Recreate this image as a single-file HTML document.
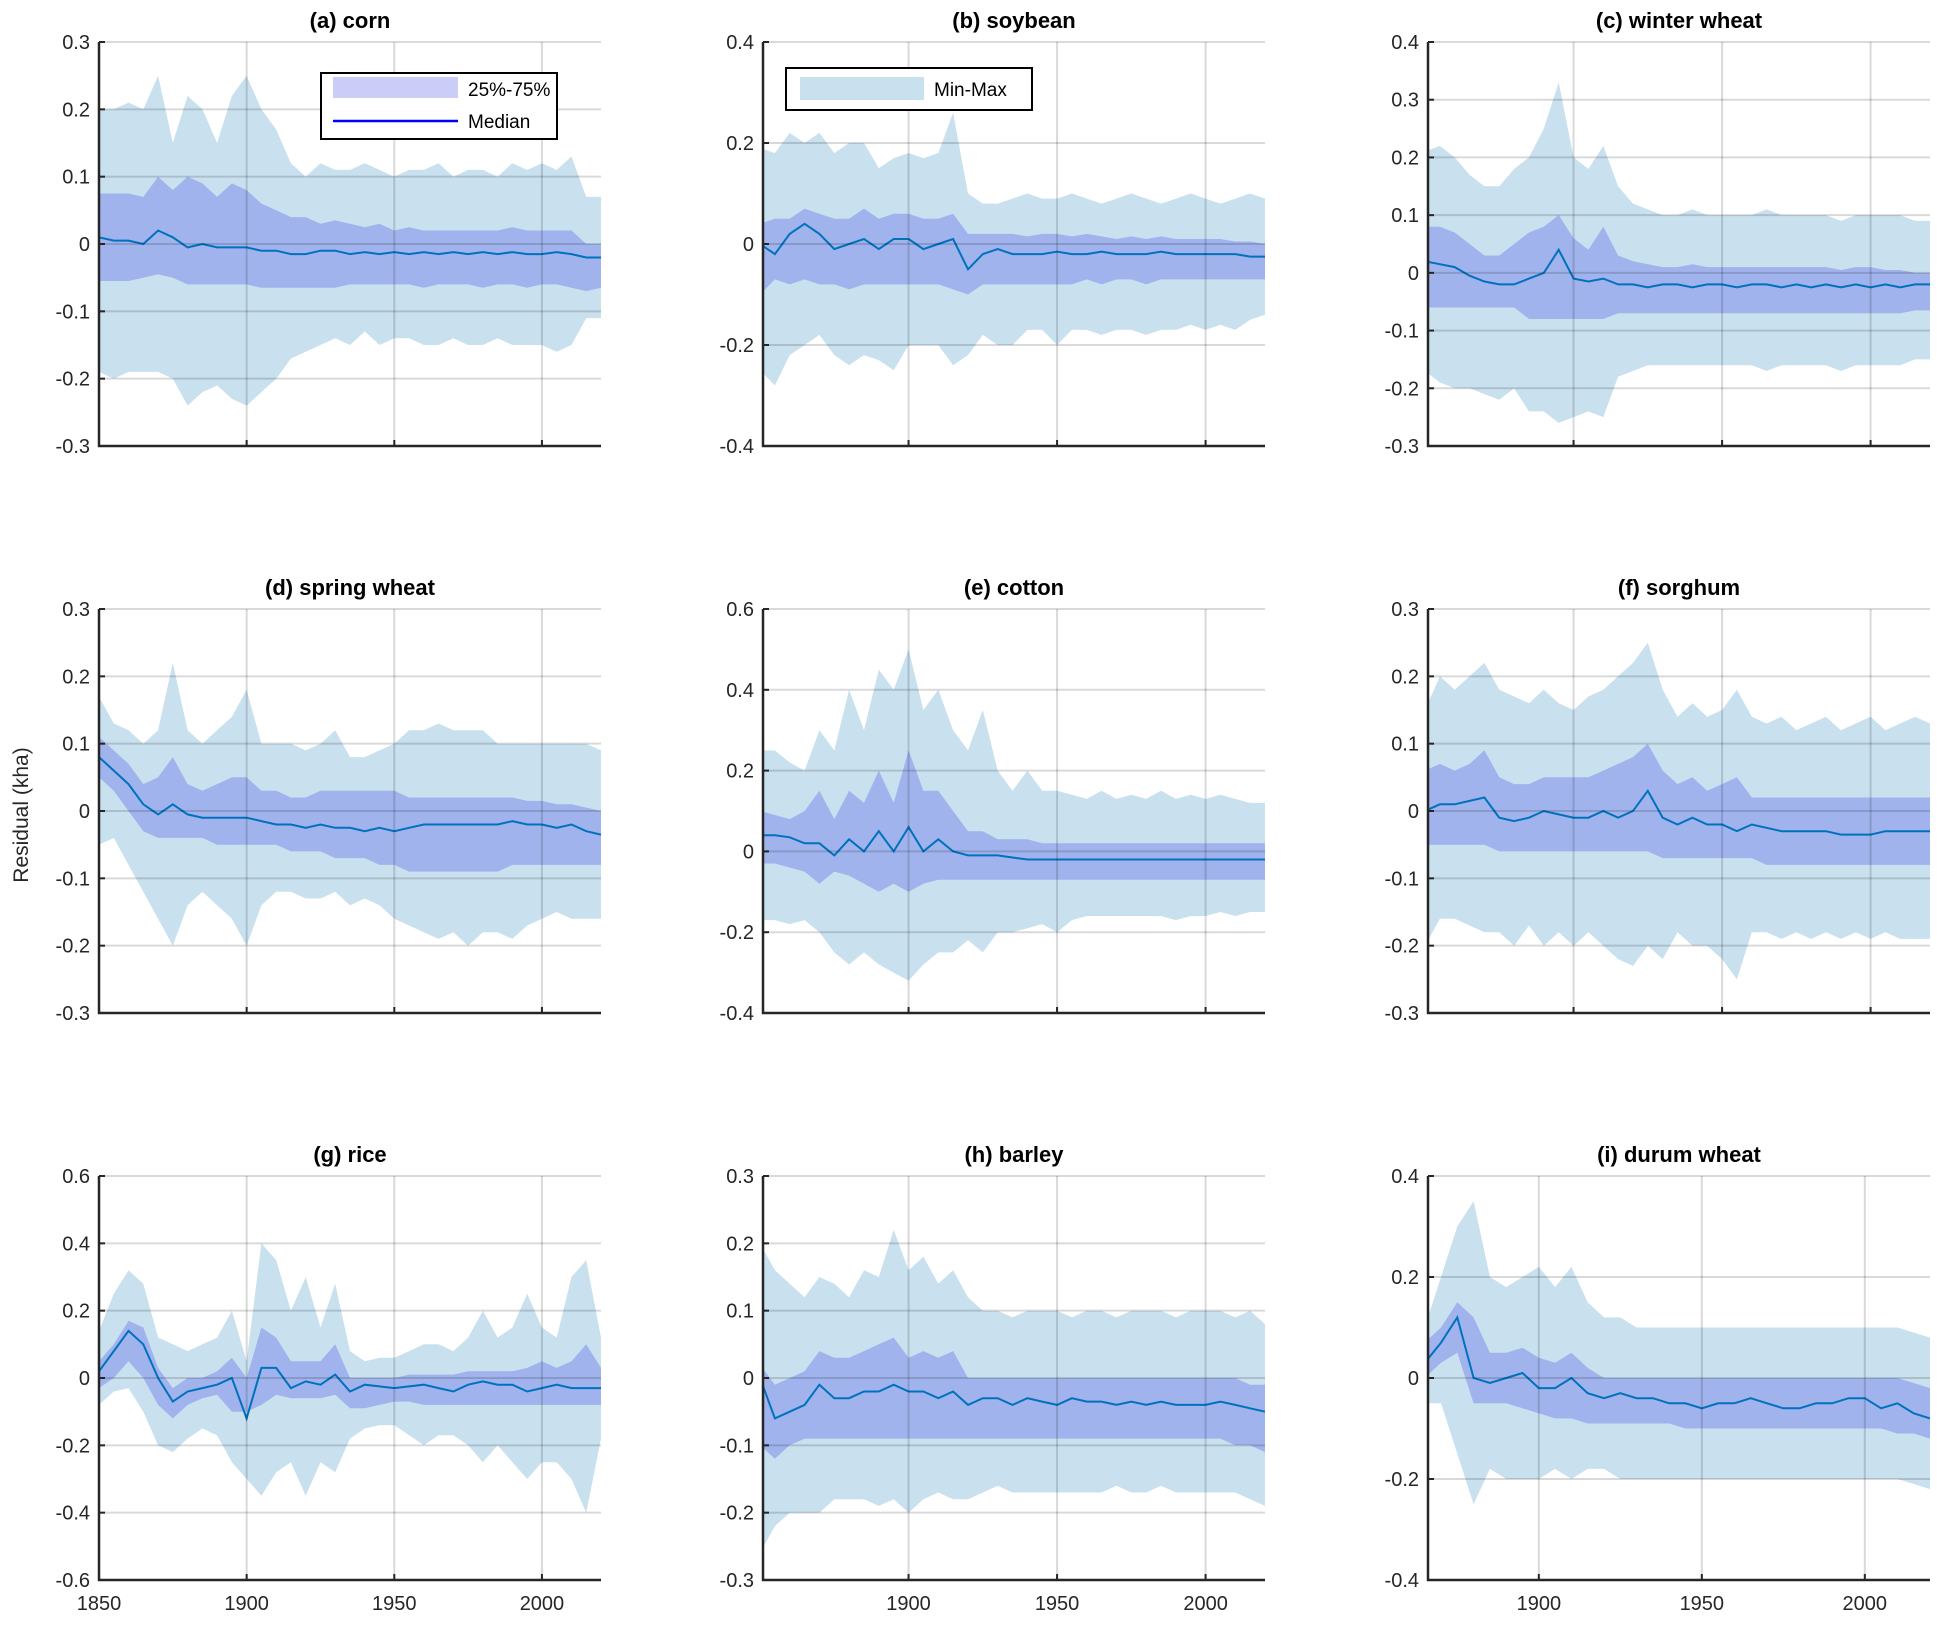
<!DOCTYPE html>
<html><head><meta charset="utf-8">
<style>
html,body{margin:0;padding:0;background:#fff;}
svg{display:block;font-family:"Liberation Sans",Arial,sans-serif;}
</style></head>
<body>
<svg id="fig" width="1950" height="1628" viewBox="0 0 1950 1628" xmlns="http://www.w3.org/2000/svg">
<text x="0" y="0" transform="translate(28,815) rotate(-90)" text-anchor="middle" font-size="21" fill="#262626">Residual (kha)</text>
</svg>
<script>
const years = [1850,1855,1860,1865,1870,1875,1880,1885,1890,1895,1900,1905,1910,1915,1920,1925,1930,1935,1940,1945,1950,1955,1960,1965,1970,1975,1980,1985,1990,1995,2000,2005,2010,2015,2020];

const cornMax = [.20,.20,.21,.20,.25, .15,.22,.20,.15,.22, .25,.20,.17,.12,.10, .12,.11,.11,.12,.11, .10,.11,.11,.12,.10, .11,.11,.10,.12,.11, .12,.11,.13,.07,.07];
const cornMin = [-.19,-.20,-.19,-.19,-.19, -.20,-.24,-.22,-.21,-.23, -.24,-.22,-.20,-.17,-.16, -.15,-.14,-.15,-.13,-.15, -.14,-.14,-.15,-.15,-.14, -.15,-.15,-.14,-.15,-.15, -.15,-.16,-.15,-.11,-.11];
const cornQ75 = [.075,.075,.075,.07,.10, .08,.10,.09,.07,.09, .08,.06,.05,.04,.04, .03,.035,.03,.025,.03, .02,.025,.02,.02,.02, .02,.02,.02,.025,.02, .02,.02,.02,0,0];
const cornQ25 = [-.055,-.055,-.055,-.05,-.045, -.05,-.06,-.06,-.06,-.06, -.06,-.065,-.065,-.065,-.065, -.065,-.065,-.06,-.06,-.06, -.06,-.06,-.065,-.06,-.06, -.06,-.065,-.06,-.06,-.065, -.06,-.06,-.065,-.07,-.065];
const cornMed = [.01,.005,.005,0,.02, .01,-.005,0,-.005,-.005, -.005,-.01,-.01,-.015,-.015, -.01,-.01,-.015,-.012,-.015, -.012,-.015,-.012,-.015,-.012, -.015,-.012,-.015,-.012,-.015, -.015,-.012,-.015,-.02,-.02];

const soyMax = [.19,.18,.22,.20,.22, .18,.20,.20,.15,.17, .18,.17,.18,.26,.10, .08,.08,.09,.10,.09, .09,.10,.09,.08,.09, .10,.09,.08,.09,.10, .09,.08,.09,.10,.09];
const soyMin = [-.25,-.28,-.22,-.20,-.18, -.22,-.24,-.22,-.23,-.25, -.20,-.20,-.20,-.24,-.22, -.18,-.20,-.20,-.17,-.17, -.20,-.17,-.17,-.18,-.17, -.17,-.18,-.17,-.17,-.16, -.17,-.16,-.17,-.15,-.14];
const soyQ75 = [.04,.05,.05,.07,.06, .05,.05,.07,.05,.06, .06,.05,.05,.06,.02, .02,.02,.02,.015,.02, .02,.015,.02,.015,.01, .015,.01,.015,.01,.01, .01,.01,.005,.005,0];
const soyQ25 = [-.10,-.07,-.08,-.07,-.08, -.08,-.09,-.08,-.08,-.08, -.08,-.08,-.08,-.09,-.10, -.08,-.08,-.08,-.08,-.08, -.08,-.08,-.07,-.08,-.07, -.07,-.08,-.07,-.07,-.07, -.07,-.07,-.07,-.07,-.07];
const soyMed = [0,-.02,.02,.04,.02, -.01,0,.01,-.01,.01, .01,-.01,0,.01,-.05, -.02,-.01,-.02,-.02,-.02, -.015,-.02,-.02,-.015,-.02, -.02,-.02,-.015,-.02,-.02, -.02,-.02,-.02,-.025,-.025];

const wwMax = [.21,.22,.20,.17,.15, .15,.18,.20,.25,.33, .20,.18,.22,.15,.12, .11,.10,.10,.11,.10, .10,.10,.10,.11,.10, .10,.10,.10,.09,.10, .10,.10,.10,.09,.09];
const wwMin = [-.17,-.19,-.20,-.20,-.21, -.22,-.20,-.24,-.24,-.26, -.25,-.24,-.25,-.18,-.17, -.16,-.16,-.16,-.16,-.16, -.16,-.16,-.16,-.17,-.16, -.16,-.16,-.16,-.17,-.16, -.16,-.16,-.16,-.15,-.15];
const wwQ75 = [.08,.08,.07,.05,.03, .03,.05,.07,.08,.10, .06,.04,.08,.03,.02, .015,.01,.01,.015,.01, .01,.01,.01,.01,.01, .01,.01,.01,.005,.01, .01,.005,.005,0,0];
const wwQ25 = [-.06,-.06,-.06,-.06,-.06, -.06,-.06,-.08,-.08,-.08, -.08,-.08,-.08,-.07,-.07, -.07,-.07,-.07,-.07,-.07, -.07,-.07,-.07,-.07,-.07, -.07,-.07,-.07,-.07,-.07, -.07,-.07,-.07,-.065,-.065];
const wwMed = [.02,.015,.01,-.005,-.015, -.02,-.02,-.01,0,.04, -.01,-.015,-.01,-.02,-.02, -.025,-.02,-.02,-.025,-.02, -.02,-.025,-.02,-.02,-.025, -.02,-.025,-.02,-.025,-.02, -.025,-.02,-.025,-.02,-.02];

const swMax = [.17,.13,.12,.10,.12, .22,.12,.10,.12,.14, .18,.10,.10,.10,.09, .10,.12,.08,.08,.09, .10,.12,.12,.13,.12, .12,.12,.10,.10,.10, .10,.10,.10,.10,.09];
const swMin = [-.05,-.04,-.08,-.12,-.16, -.20,-.14,-.12,-.14,-.16, -.20,-.14,-.12,-.12,-.13, -.13,-.12,-.14,-.13,-.14, -.16,-.17,-.18,-.19,-.18, -.20,-.18,-.18,-.19,-.17, -.16,-.15,-.16,-.16,-.16];
const swQ75 = [.11,.09,.07,.04,.05, .08,.04,.03,.04,.05, .05,.03,.03,.02,.02, .03,.03,.03,.03,.03, .03,.02,.02,.02,.02, .02,.02,.02,.02,.015, .015,.01,.01,.005,0];
const swQ25 = [.05,.03,0,-.03,-.04, -.04,-.04,-.04,-.05,-.05, -.05,-.05,-.05,-.06,-.06, -.06,-.07,-.07,-.07,-.08, -.08,-.09,-.09,-.09,-.09, -.09,-.09,-.09,-.08,-.08, -.08,-.08,-.08,-.08,-.08];
const swMed = [.08,.06,.04,.01,-.005, .01,-.005,-.01,-.01,-.01, -.01,-.015,-.02,-.02,-.025, -.02,-.025,-.025,-.03,-.025, -.03,-.025,-.02,-.02,-.02, -.02,-.02,-.02,-.015,-.02, -.02,-.025,-.02,-.03,-.035];

const cotMax = [.25,.25,.22,.20,.30, .25,.40,.30,.45,.40, .50,.35,.40,.30,.25, .35,.20,.15,.20,.15, .15,.14,.13,.15,.13, .14,.13,.15,.13,.14, .13,.14,.13,.12,.12];
const cotMin = [-.17,-.17,-.18,-.17,-.20, -.25,-.28,-.25,-.28,-.30, -.32,-.28,-.25,-.25,-.22, -.25,-.20,-.20,-.19,-.18, -.20,-.17,-.16,-.16,-.16, -.16,-.16,-.16,-.17,-.16, -.16,-.15,-.16,-.15,-.15];
const cotQ75 = [.10,.09,.08,.10,.15, .08,.15,.12,.20,.12, .25,.15,.15,.10,.05, .05,.03,.03,.03,.02, .02,.02,.02,.02,.02, .02,.02,.02,.02,.02, .02,.02,.02,.02,.02];
const cotQ25 = [-.03,-.03,-.04,-.05,-.08, -.05,-.06,-.08,-.10,-.08, -.10,-.08,-.07,-.07,-.07, -.07,-.07,-.07,-.07,-.07, -.07,-.07,-.07,-.07,-.07, -.07,-.07,-.07,-.07,-.07, -.07,-.07,-.07,-.07,-.07];
const cotMed = [.04,.04,.035,.02,.02, -.01,.03,0,.05,0, .06,0,.03,0,-.01, -.01,-.01,-.015,-.02,-.02, -.02,-.02,-.02,-.02,-.02, -.02,-.02,-.02,-.02,-.02, -.02,-.02,-.02,-.02,-.02];

const sorMax = [.15,.20,.18,.20,.22, .18,.17,.16,.18,.16, .15,.17,.18,.20,.22, .25,.18,.14,.16,.14, .15,.18,.14,.13,.14, .12,.13,.14,.12,.13, .14,.12,.13,.14,.13];
const sorMin = [-.20,-.16,-.16,-.17,-.18, -.18,-.20,-.17,-.20,-.18, -.20,-.18,-.20,-.22,-.23, -.20,-.22,-.18,-.20,-.20, -.22,-.25,-.18,-.18,-.19, -.18,-.19,-.18,-.19,-.18, -.19,-.18,-.19,-.19,-.19];
const sorQ75 = [.06,.07,.06,.07,.09, .05,.04,.04,.05,.05, .05,.05,.06,.07,.08, .10,.06,.04,.05,.03, .04,.05,.02,.02,.02, .02,.02,.02,.02,.02, .02,.02,.02,.02,.02];
const sorQ25 = [-.05,-.05,-.05,-.05,-.05, -.06,-.06,-.06,-.06,-.06, -.06,-.06,-.06,-.06,-.06, -.06,-.07,-.07,-.07,-.07, -.07,-.07,-.07,-.08,-.08, -.08,-.08,-.08,-.08,-.08, -.08,-.08,-.08,-.08,-.08];
const sorMed = [0,.01,.01,.015,.02, -.01,-.015,-.01,0,-.005, -.01,-.01,0,-.01,0, .03,-.01,-.02,-.01,-.02, -.02,-.03,-.02,-.025,-.03, -.03,-.03,-.03,-.035,-.035, -.035,-.03,-.03,-.03,-.03];

const riceMax = [.14,.25,.32,.28,.12, .10,.08,.10,.12,.20, .05,.40,.35,.20,.30, .15,.28,.08,.05,.06, .06,.08,.10,.10,.08, .12,.20,.12,.15,.25, .15,.12,.30,.35,.12];
const riceMin = [-.08,-.04,-.03,-.10,-.20, -.22,-.18,-.15,-.17,-.25, -.30,-.35,-.28,-.25,-.35, -.25,-.28,-.18,-.15,-.14, -.14,-.17,-.20,-.17,-.17, -.20,-.25,-.20,-.25,-.30, -.25,-.25,-.30,-.40,-.18];
const riceQ75 = [.05,.10,.17,.15,.03, -.03,0,0,.02,.06, 0,.15,.12,.05,.05, .05,.10,0,0,0, 0,.01,.01,.01,.01, .02,.02,.02,.02,.03, .05,.03,.05,.10,.03];
const riceQ25 = [-.03,0,.05,0,-.08, -.12,-.08,-.06,-.05,-.10, -.10,-.08,-.05,-.06,-.06, -.06,-.05,-.09,-.09,-.08, -.07,-.07,-.08,-.08,-.08, -.08,-.08,-.08,-.08,-.08, -.08,-.08,-.08,-.08,-.08];
const riceMed = [.02,.08,.14,.10,0, -.07,-.04,-.03,-.02,0, -.12,.03,.03,-.03,-.01, -.02,.01,-.04,-.02,-.025, -.03,-.025,-.02,-.03,-.04, -.02,-.01,-.02,-.02,-.04, -.03,-.02,-.03,-.03,-.03];

const barMax = [.20,.16,.14,.12,.15, .14,.12,.16,.15,.22, .16,.18,.14,.16,.12, .10,.10,.09,.10,.10, .10,.09,.10,.10,.09, .10,.10,.10,.09,.10, .10,.10,.09,.10,.08];
const barMin = [-.26,-.22,-.20,-.20,-.20, -.18,-.18,-.18,-.19,-.18, -.20,-.18,-.17,-.18,-.18, -.17,-.16,-.17,-.17,-.17, -.17,-.17,-.17,-.17,-.16, -.17,-.17,-.16,-.17,-.17, -.17,-.17,-.17,-.18,-.19];
const barQ75 = [.02,-.01,0,.01,.04, .03,.03,.04,.05,.06, .03,.04,.03,.04,0, 0,0,0,0,0, 0,0,0,0,0, 0,0,0,0,0, 0,0,0,-.01,-.01];
const barQ25 = [-.10,-.12,-.10,-.09,-.09, -.09,-.09,-.09,-.09,-.09, -.09,-.09,-.09,-.09,-.09, -.09,-.09,-.09,-.09,-.09, -.09,-.09,-.09,-.09,-.09, -.09,-.09,-.09,-.09,-.09, -.09,-.09,-.10,-.10,-.11];
const barMed = [0,-.06,-.05,-.04,-.01, -.03,-.03,-.02,-.02,-.01, -.02,-.02,-.03,-.02,-.04, -.03,-.03,-.04,-.03,-.035, -.04,-.03,-.035,-.035,-.04, -.035,-.04,-.035,-.04,-.04, -.04,-.035,-.04,-.045,-.05];

const durMax = [.10,.10,.10,.10,.20, .30,.35,.20,.18,.20, .22,.18,.22,.15,.12, .12,.10,.10,.10,.10, .10,.10,.10,.10,.10, .10,.10,.10,.10,.10, .10,.10,.10,.09,.08];
const durMin = [-.05,-.05,-.05,-.05,-.05, -.15,-.25,-.18,-.20,-.20, -.20,-.18,-.20,-.18,-.18, -.20,-.20,-.20,-.20,-.20, -.20,-.20,-.20,-.20,-.20, -.20,-.20,-.20,-.20,-.20, -.20,-.20,-.20,-.21,-.22];
const durQ75 = [.07,.07,.07,.07,.10, .15,.12,.05,.05,.06, .04,.03,.05,.02,0, 0,0,0,0,0, 0,0,0,0,0, 0,0,0,0,0, 0,0,0,-.01,-.02];
const durQ25 = [0,0,0,0,.03, .05,-.05,-.05,-.05,-.06, -.07,-.08,-.08,-.09,-.09, -.09,-.09,-.09,-.09,-.10, -.10,-.10,-.10,-.10,-.10, -.10,-.10,-.10,-.10,-.10, -.10,-.10,-.11,-.11,-.12];
const durMed = [.03,.03,.03,.03,.07, .12,0,-.01,0,.01, -.02,-.02,0,-.03,-.04, -.03,-.04,-.04,-.05,-.05, -.06,-.05,-.05,-.04,-.05, -.06,-.06,-.05,-.05,-.04, -.04,-.06,-.05,-.07,-.08];

const titles = ["(a) corn","(b) soybean","(c) winter wheat","(d) spring wheat","(e) cotton","(f) sorghum","(g) rice","(h) barley","(i) durum wheat"];
const slugs = ["corn","soybean","winter-wheat","spring-wheat","cotton","sorghum","rice","barley","durum-wheat"];
const xStarts = [1850,1851,1851,1850,1851,1851,1850,1851,1866];
const yMins = [-0.3,-0.4,-0.3,-0.3,-0.4,-0.3,-0.6,-0.3,-0.4];
const yMaxs = [0.3,0.4,0.4,0.3,0.6,0.3,0.6,0.3,0.4];
const ySteps = [0.1,0.2,0.1,0.1,0.2,0.1,0.2,0.1,0.2];
const xTicks = [1850,1900,1950,2000];
const seriesMax = [cornMax,soyMax,wwMax,swMax,cotMax,sorMax,riceMax,barMax,durMax];
const seriesMin = [cornMin,soyMin,wwMin,swMin,cotMin,sorMin,riceMin,barMin,durMin];
const seriesQ75 = [cornQ75,soyQ75,wwQ75,swQ75,cotQ75,sorQ75,riceQ75,barQ75,durQ75];
const seriesQ25 = [cornQ25,soyQ25,wwQ25,swQ25,cotQ25,sorQ25,riceQ25,barQ25,durQ25];
const seriesMed = [cornMed,soyMed,wwMed,swMed,cotMed,sorMed,riceMed,barMed,durMed];

const NS = "http://www.w3.org/2000/svg";
const svg = document.getElementById("fig");
function mk(tag, attrs, parent){
  const e = document.createElementNS(NS, tag);
  for (const k in attrs) e.setAttribute(k, attrs[k]);
  (parent||svg).appendChild(e);
  return e;
}
const lefts = [99,763,1428], tops = [42,609,1176], W = 502, H = 404;
const XMAX = 2020;

for (let p = 0; p < 9; p++) {
  const L = lefts[p%3], T = tops[Math.floor(p/3)];
  const x0 = xStarts[p], y0 = yMins[p], y1 = yMaxs[p], st = ySteps[p];
  const sx = v => L + (v - x0) / (XMAX - x0) * W;
  const sy = v => T + H - (v - y0) / (y1 - y0) * H;
  const g = mk("g", {});
  
  
  const clip = mk("clipPath", {id: "clip" + p}, g);
  mk("rect", {x: L, y: T, width: W, height: H}, clip);
  const plot = mk("g", {"clip-path": "url(#clip" + p + ")"}, g);
  function band(hi, lo, fill, name){
    let d = "";
    years.forEach((yr,i) => { d += (i ? "L" : "M") + sx(yr).toFixed(1) + "," + sy(hi[i]).toFixed(1); });
    for (let i = years.length - 1; i >= 0; i--) d += "L" + sx(years[i]).toFixed(1) + "," + sy(lo[i]).toFixed(1);
    const e = mk("path", {d: d + "Z", fill: fill}, plot);
    
    
  }
  band(seriesMax[p], seriesMin[p], "#c9e0ef", "minmax-band");
  band(seriesQ75[p], seriesQ25[p], "rgba(0,0,230,0.2)", "iqr-band");
  let dm = "";
  years.forEach((yr,i) => { dm += (i ? "L" : "M") + sx(yr).toFixed(1) + "," + sy(seriesMed[p][i]).toFixed(1); });
  const med = mk("path", {d: dm, fill: "none", stroke: "#0072bd", "stroke-width": 2}, plot);
  
  
  // grid
  const nT = Math.round((y1 - y0) / st);
  for (let k = 0; k <= nT; k++) {
    const v = y0 + k * st, y = sy(v);
    mk("line", {x1: L, x2: L + W, y1: y, y2: y, stroke: "rgba(0,0,0,0.15)", "stroke-width": 2}, g);
    mk("line", {x1: L, x2: L + 6, y1: y, y2: y, stroke: "#262626", "stroke-width": 2}, g);
    const lbl = Math.abs(v) < 1e-9 ? "0" : (Math.round(v * 10) / 10).toString();
    const t = mk("text", {x: L - 9, y: y + 7, "text-anchor": "end", "font-size": 20, fill: "#262626"}, g);
    t.textContent = lbl;
    
    
  }
  xTicks.forEach(xt => {
    if (xt < x0) return;
    const x = sx(xt);
    if (xt > x0) mk("line", {x1: x, x2: x, y1: T, y2: T + H, stroke: "rgba(0,0,0,0.15)", "stroke-width": 2}, g);
    mk("line", {x1: x, x2: x, y1: T + H - 6, y2: T + H, stroke: "#262626", "stroke-width": 2}, g);
    if (p >= 6) {
      const t = mk("text", {x: x, y: T + H + 30, "text-anchor": "middle", "font-size": 20, fill: "#262626"}, g);
      t.textContent = xt;
      
      
    }
  });
  mk("path", {d: "M" + L + "," + T + "V" + (T + H) + "H" + (L + W), fill: "none", stroke: "#262626", "stroke-width": 2.5}, g);
  const tt = mk("text", {x: L + W / 2, y: T - 14, "text-anchor": "middle", "font-size": 22, "font-weight": "bold", fill: "#000"}, g);
  tt.textContent = titles[p];
  
  
}

// legends
const lg1 = mk("g", {});


mk("rect", {x: 321, y: 73, width: 236, height: 66, fill: "#fff", stroke: "#000", "stroke-width": 2}, lg1);
mk("rect", {x: 333, y: 77, width: 125, height: 21, fill: "#ccccf8"}, lg1);
const l1t = mk("text", {x: 468, y: 96, "font-size": 19, fill: "#000"}, lg1);
l1t.textContent = "25%-75%";
mk("line", {x1: 333, x2: 458, y1: 121, y2: 121, stroke: "#0000ff", "stroke-width": 2.5}, lg1);
const l2t = mk("text", {x: 468, y: 128, "font-size": 19, fill: "#000"}, lg1);
l2t.textContent = "Median";
const lg2 = mk("g", {});


mk("rect", {x: 786, y: 68, width: 246, height: 42, fill: "#fff", stroke: "#000", "stroke-width": 2}, lg2);
mk("rect", {x: 800, y: 77, width: 124, height: 23, fill: "#c9e0ef"}, lg2);
const l3t = mk("text", {x: 934, y: 96, "font-size": 19, fill: "#000"}, lg2);
l3t.textContent = "Min-Max";
</script>
</body></html>
